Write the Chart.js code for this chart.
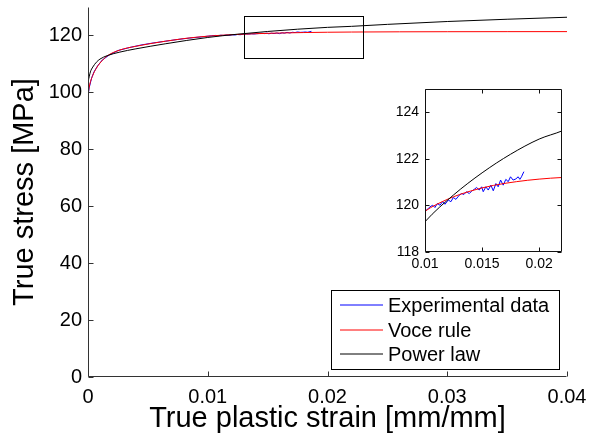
<!DOCTYPE html>
<html><head><meta charset="utf-8">
<script src="https://cdn.jsdelivr.net/npm/chart.js@4.4.0/dist/chart.umd.min.js"></script>
<style>
html,body{margin:0;padding:0;background:#fff;}
#wrap{position:relative;width:589px;height:438px;overflow:hidden;}
#main{position:absolute;left:0;top:0;}
#inset{position:absolute;left:380px;top:80px;}
</style></head><body>
<div id="wrap"><canvas id="main" width="589" height="438"></canvas><canvas id="inset" width="200" height="200"></canvas></div>
<script>
// ---- data ----
const strainExp = [0, 0.0001, 0.0003, 0.0005, 0.0008, 0.0012, 0.0018, 0.0025, 0.0035, 0.0045, 0.0055, 0.0065, 0.0075, 0.0085, 0.0095,
  0.01006, 0.01029, 0.01044, 0.01067, 0.01087, 0.01108, 0.01131, 0.01154, 0.01175, 0.01204, 0.01227, 0.01248, 0.01271, 0.01300,
  0.01321, 0.01341, 0.01364, 0.01388, 0.01408, 0.01431, 0.01452, 0.01475, 0.01496, 0.01510, 0.01533, 0.01554, 0.01577, 0.01598,
  0.01621, 0.01641, 0.01662, 0.01685, 0.01708, 0.01729, 0.01749, 0.01772, 0.01796, 0.01816, 0.01831, 0.01845, 0.01866];
const stressExp = [98.8, 101.6, 105.0, 107.2, 109.3, 111.4, 113.2, 114.7, 115.8, 116.7, 117.4, 118.0, 118.6, 119.1, 119.5,
  119.77, 119.87, 119.94, 120.01, 119.91, 120.08, 120.01, 120.16, 120.05, 120.23, 120.16, 120.34, 120.26, 120.44,
  120.51, 120.47, 120.59, 120.51, 120.61, 120.69, 120.77, 120.66, 120.80, 120.59, 120.80, 120.66, 120.87, 120.63,
  120.94, 120.80, 121.09, 120.87, 121.12, 121.02, 121.23, 121.09, 121.14, 121.23, 121.12, 121.23, 121.45];
const strainVoce = [0, 0.0001, 0.0004, 0.0007, 0.001, 0.0016, 0.0026, 0.004, 0.0065, 0.008, 0.01, 0.012, 0.014, 0.016, 0.018, 0.02, 0.022, 0.026, 0.03, 0.035, 0.04];
const stressVoce = [98.9, 101.9, 106.0, 108.5, 110.3, 112.8, 114.8, 116.2, 118.0, 118.9, 119.75, 120.27, 120.62, 120.86, 121.02, 121.13, 121.2, 121.28, 121.32, 121.34, 121.35];
const strainPower = [0.00002, 0.0002, 0.0004, 0.0007, 0.001, 0.0016, 0.0026, 0.004, 0.0065, 0.01, 0.0125, 0.015, 0.0175, 0.02, 0.022, 0.025, 0.03, 0.035, 0.04];
const stressPower = [104.0, 107.2, 108.9, 110.6, 111.7, 112.9, 114.1, 115.3, 117.1, 119.3, 120.45, 121.4, 122.2, 122.85, 123.2, 123.9, 124.9, 125.7, 126.4];
const seriesLabels = ['Experimental data', 'Voce rule', 'Power law'];
const seriesColors = ['#0000ff', '#ff0000', '#000000'];
const xTicksMain = [0, 0.01, 0.02, 0.03, 0.04];
const yTicksMain = [0, 20, 40, 60, 80, 100, 120];
const xTicksInset = [0.01, 0.015, 0.02];
const yTicksInset = [118, 120, 122, 124];
const zoomBoxX = [0.013, 0.023];
const zoomBoxY = [112, 127];

const FONT = '"Liberation Sans", Arial, Helvetica, sans-serif';
const pts = (xs, ys) => xs.map((x, i) => ({x, y: ys[i]}));

function makeDatasets() {
  return [
    {label: seriesLabels[0], data: pts(strainExp, stressExp), borderColor: seriesColors[0], borderWidth: 1, pointRadius: 0, tension: 0, order: 3},
    {label: seriesLabels[1], data: pts(strainVoce, stressVoce), borderColor: seriesColors[1], borderWidth: 1, pointRadius: 0, cubicInterpolationMode: 'monotone', order: 2},
    {label: seriesLabels[2], data: pts(strainPower, stressPower), borderColor: seriesColors[2], borderWidth: 1, pointRadius: 0, cubicInterpolationMode: 'monotone', order: 1}
  ];
}

function axesPlugin(box, L) {
  return {
    id: 'axesPlugin',
    beforeDatasetsDraw(chart) {
      const {ctx, chartArea: a} = chart;
      if (box) { ctx.save(); ctx.fillStyle = '#fff'; ctx.fillRect(a.left, a.top, a.right - a.left, a.bottom - a.top); ctx.restore(); }
    },
    afterDatasetsDraw(chart) {
      const {ctx, chartArea: a, scales: {x, y}} = chart;
      ctx.save();
      ctx.strokeStyle = box ? '#111' : '#333'; ctx.lineWidth = 1;
      ctx.beginPath();
      const l = Math.round(a.left) + 0.5, r = Math.round(a.right) - 0.5, t = Math.round(a.top) + 0.5, b = Math.round(a.bottom) - 0.5;
      ctx.moveTo(l, t); ctx.lineTo(l, b); ctx.lineTo(r, b);
      if (box) { ctx.lineTo(r, t); ctx.lineTo(l, t); }
      x.ticks.forEach(tk => {
        const px = Math.round(x.getPixelForValue(tk.value)) + 0.5;
        ctx.moveTo(px, b); ctx.lineTo(px, b - L);
        if (box) { ctx.moveTo(px, t); ctx.lineTo(px, t + L); }
      });
      y.ticks.forEach(tk => {
        const py = Math.round(y.getPixelForValue(tk.value)) + 0.5;
        ctx.moveTo(l, py); ctx.lineTo(l + L, py);
        if (box) { ctx.moveTo(r, py); ctx.lineTo(r - L, py); }
      });
      ctx.stroke();
      ctx.restore();
    }
  };
}

const zoomBoxPlugin = {
  id: 'zoomBox',
  afterDatasetsDraw(chart) {
    const {ctx, scales: {x, y}} = chart;
    const x0 = Math.round(x.getPixelForValue(zoomBoxX[0])) + 0.5, x1 = Math.round(x.getPixelForValue(zoomBoxX[1])) + 0.5;
    const y0 = Math.round(y.getPixelForValue(zoomBoxY[1])) + 0.5, y1 = Math.round(y.getPixelForValue(zoomBoxY[0])) + 0.5;
    ctx.save(); ctx.strokeStyle = '#000'; ctx.lineWidth = 1;
    ctx.strokeRect(x0, y0, x1 - x0, y1 - y0);
    ctx.restore();
  }
};

const legendPlugin = {
  id: 'boxLegend',
  afterDraw(chart) {
    const {ctx} = chart;
    const bx = 331.5, by = 290.5, bw = 228, bh = 79;
    ctx.save();
    ctx.fillStyle = '#fff'; ctx.fillRect(bx, by, bw, bh);
    ctx.strokeStyle = '#000'; ctx.lineWidth = 1; ctx.strokeRect(bx, by, bw, bh);
    const rows = [305, 330, 354];
    ctx.font = '20px ' + FONT; ctx.textBaseline = 'middle'; ctx.textAlign = 'left';
    chart.data.datasets.forEach((ds, i) => {
      const yy = rows[i];
      ctx.beginPath();
      ctx.strokeStyle = seriesColors[i];
      ctx.lineWidth = 1;
      ctx.moveTo(340, yy); ctx.lineTo(383, yy);
      ctx.stroke();
      ctx.fillStyle = '#000'; ctx.fillText(ds.label, 388, rows[i] + 1);
    });
    ctx.restore();
  }
};

const zeroPadX = s => { s.paddingLeft = 0; s.paddingRight = 0; };
const zeroPadY = s => { s.paddingTop = 0; s.paddingBottom = 0; };

new Chart(document.getElementById('main'), {
  type: 'line',
  data: {datasets: makeDatasets()},
  options: {
    responsive: false, animation: false, devicePixelRatio: 1,
    layout: {padding: {top: 7, right: 22, left: 0, bottom: 0}},
    plugins: {legend: {display: false}, tooltip: {enabled: false}},
    scales: {
      x: {type: 'linear', min: 0, max: 0.04,
        afterBuildTicks: s => { s.ticks = xTicksMain.map(v => ({value: v})); },
        afterFit: s => { s.height = 61; zeroPadX(s); },
        grid: {display: false, drawTicks: false}, border: {display: false},
        ticks: {autoSkip: false, maxRotation: 0, padding: 8, color: '#000', font: {size: 20, family: FONT}, callback: v => String(v)},
        title: {display: true, text: 'True plastic strain [mm/mm]', color: '#000', font: {size: 29, family: FONT}, padding: {top: 0, bottom: 2}}
      },
      y: {type: 'linear', min: 0, max: 130,
        afterBuildTicks: s => { s.ticks = yTicksMain.map(v => ({value: v})); },
        afterFit: s => { s.width = 88; zeroPadY(s); },
        grid: {display: false, drawTicks: false}, border: {display: false},
        ticks: {autoSkip: false, padding: 6, color: '#000', font: {size: 20, family: FONT}, callback: v => String(v)},
        title: {display: true, text: 'True stress [MPa]', color: '#000', font: {size: 29, family: FONT}, padding: {top: 8, bottom: 0}}
      }
    }
  },
  plugins: [axesPlugin(false, 5), zoomBoxPlugin, legendPlugin]
});

new Chart(document.getElementById('inset'), {
  type: 'line',
  data: {datasets: makeDatasets()},
  options: {
    responsive: false, animation: false, devicePixelRatio: 1,
    layout: {padding: {top: 9, right: 18, left: 0, bottom: 0}},
    plugins: {legend: {display: false}, tooltip: {enabled: false}},
    scales: {
      x: {type: 'linear', min: 0.01, max: 0.022,
        afterBuildTicks: s => { s.ticks = xTicksInset.map(v => ({value: v})); },
        afterFit: s => { s.height = 28; zeroPadX(s); },
        grid: {display: false, drawTicks: false}, border: {display: false},
        ticks: {autoSkip: false, maxRotation: 0, padding: 4, color: '#000', font: {size: 14, family: FONT}, callback: v => String(v)}
      },
      y: {type: 'linear', min: 118, max: 125,
        afterBuildTicks: s => { s.ticks = yTicksInset.map(v => ({value: v})); },
        afterFit: s => { s.width = 45; zeroPadY(s); },
        grid: {display: false, drawTicks: false}, border: {display: false},
        ticks: {autoSkip: false, padding: 6, color: '#000', font: {size: 14, family: FONT}, callback: v => String(v)}
      }
    }
  },
  plugins: [axesPlugin(true, 4)]
});
</script>
</body></html>
